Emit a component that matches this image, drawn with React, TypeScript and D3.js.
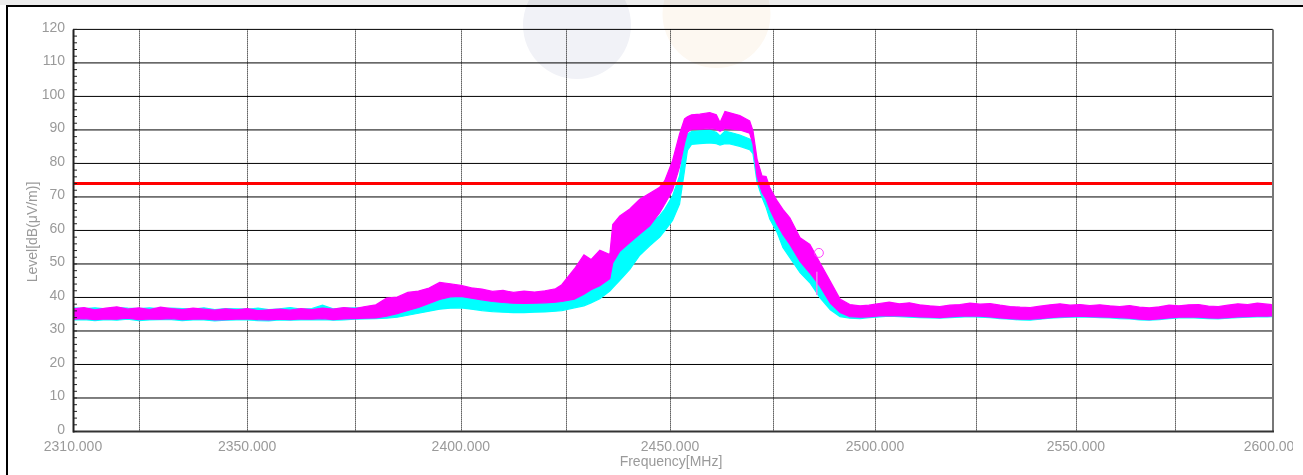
import React from "react";
import * as d3 from "d3";

const W = 1303;
const H = 475;

// Axis definitions
const labeledFreqs = [2310, 2350, 2400, 2450, 2500, 2550, 2600];
const gridFreqs = [2325, 2350, 2375, 2400, 2425, 2450, 2475, 2500, 2525, 2550, 2575];
const levelTicks = [0, 10, 20, 30, 40, 50, 60, 70, 80, 90, 100, 110, 120];
const limitLevel = 74;

// Sample frequencies (MHz)
const freqs = [
  // left noise floor
  2310, 2312.5, 2315, 2317.5, 2320, 2322.5, 2325, 2327.5, 2330, 2332.5, 2335, 2337.5, 2340, 2342.5, 2345,
  2347.5, 2350, 2352.5, 2355, 2357.5, 2360, 2362.5, 2365, 2367.5, 2370, 2372.5, 2375, 2377.5, 2380,
  // bump
  2382.5, 2385, 2387.5, 2390, 2392.5, 2395, 2397.5, 2400, 2402.5, 2405, 2407.5, 2410, 2412.5, 2415, 2417.5, 2420, 2422.5,
  // rise
  2424, 2427, 2429.3, 2431, 2433.1, 2435.5, 2436.2, 2437.9, 2440.3, 2442.7, 2445.1, 2447.5, 2448.7, 2450.6, 2452.3, 2453.5, 2454.2, 2455.2,
  // plateau + cliff
  2457.2, 2459.6, 2461.2, 2462.1, 2463.3, 2464.5, 2466.9, 2469.3, 2470.1, 2471.1, 2472.3,
  // fall
  2473.3, 2474.2, 2476, 2477.4, 2479.1, 2481.6, 2484, 2486.5, 2489, 2491.4, 2493.8, 2496.3,
  // right noise floor
  2498.5, 2501, 2503.5, 2506, 2508.5, 2511, 2513.5, 2516, 2518.5, 2521, 2523.5, 2526, 2528.5, 2531, 2533.5,
  2536, 2538.5, 2541, 2543.5, 2546, 2548.5, 2551, 2553.5, 2556, 2558.5, 2561, 2563.5, 2566, 2568.5, 2571,
  2573.5, 2576, 2578.5, 2581, 2583.5, 2586, 2588.5, 2591, 2593.5, 2596, 2598.5, 2600,
];

// Magenta trace envelope (dBµV/m)
const magentaLo = [
  33.5, 33.7, 33.4, 33.6, 33.5, 33.8, 33.4, 33.6, 33.5, 33.7, 33.4, 33.5, 33.6, 33.3, 33.4,
  33.5, 33.6, 33.4, 33.3, 33.5, 33.4, 33.6, 33.5, 33.7, 33.4, 33.6, 33.7, 33.8, 33.9,
  34.4, 35.2, 36.1, 37.0, 38.2, 39.4, 40.2, 40.3, 39.8, 39.3, 38.8, 38.5, 38.3, 38.2, 38.3, 38.4, 38.6,
  38.8, 39.5, 41.0, 42.3, 43.5, 45.6, 50.3, 53.8, 56.4, 58.9, 61.4, 65.3, 67.8, 72.0, 79.0, 86.0, 89.3, 90.3,
  90.2, 90.4, 90.2, 89.6, 90.4, 90.3, 90.0, 89.0, 85.8, 76.0, 71.3,
  69.3, 66.3, 61.8, 58.8, 55.8, 50.8, 47.3, 43.3, 38.3, 35.5, 34.3, 34.1,
  34.2, 34.5, 34.6, 34.5, 34.4, 34.2, 34.1, 34.0, 34.2, 34.4, 34.5, 34.4, 34.2, 33.9, 33.7,
  33.5, 33.5, 33.7, 34.0, 34.2, 34.3, 34.4, 34.3, 34.2, 34.1, 34.0, 33.8, 33.5, 33.4, 33.6,
  33.9, 34.1, 34.2, 34.1, 33.9, 33.8, 34.0, 34.2, 34.3, 34.4, 34.4, 34.5,
];
const magentaHi = [
  36.6, 37.0, 36.3, 36.8, 37.2, 36.5, 36.9, 36.4, 37.1, 36.7, 36.4, 36.8, 36.5, 36.2, 36.6,
  36.3, 36.7, 36.1, 36.3, 36.5, 36.2, 36.7, 36.4, 36.8, 36.5, 37.0, 36.7, 37.3, 37.8,
  39.8, 40.1, 41.5, 41.9, 42.8, 44.5, 44.1, 43.6, 42.9, 42.5, 41.8, 42.1, 41.5, 41.9, 41.6, 42.0, 42.6,
  43.8, 48.5, 52.7, 51.3, 54.1, 52.8, 61.8, 64.3, 66.4, 69.3, 71.1, 72.9, 74.8, 80.8, 88.8, 93.3, 93.9, 94.5,
  94.7, 95.2, 94.5, 92.2, 95.5, 95.1, 94.3, 92.7, 89.8, 81.3, 76.3,
  76.1, 72.8, 68.8, 66.3, 63.8, 57.8, 55.8, 50.3, 44.8, 39.5, 37.9, 37.5,
  37.7, 38.2, 38.6, 38.1, 38.4, 37.8, 37.5, 37.3, 37.7, 37.9, 38.3, 38.0, 38.2, 37.7, 37.3,
  37.1, 37.0, 37.4, 37.8, 38.1, 37.7, 37.9, 37.6, 37.8, 37.5, 37.3, 37.6, 37.1, 36.9, 37.2,
  37.7, 37.5, 37.8, 37.9, 37.4, 37.3, 37.7, 38.1, 37.9, 38.3, 38.0, 37.8,
];

// Cyan trace envelope (dBµV/m)
const cyanLo = [
  33.3, 33.4, 33.1, 33.4, 33.2, 33.5, 33.1, 33.3, 33.4, 33.4, 33.1, 33.3, 33.3, 33.0, 33.2,
  33.3, 33.3, 33.1, 33.0, 33.3, 33.2, 33.3, 33.3, 33.4, 33.2, 33.3, 33.5, 33.6, 33.7,
  33.8, 34.1, 34.7, 35.3, 35.9, 36.5, 36.8, 36.9, 36.5, 36.1, 35.8, 35.6, 35.5, 35.5, 35.6, 35.7, 35.9,
  36.1, 36.9, 37.5, 38.4, 39.6, 41.9, 42.9, 45.1, 48.4, 52.6, 55.4, 58.0, 59.9, 63.0, 67.9, 77.9, 83.9, 85.7,
  85.9, 86.1, 85.9, 85.5, 85.9, 85.8, 85.1, 84.1, 82.9, 74.4, 69.9,
  66.9, 63.4, 59.4, 54.9, 51.9, 47.4, 44.4, 39.9, 36.3, 34.3, 33.8, 33.7,
  34.0, 34.2, 34.4, 34.3, 34.1, 34.0, 33.9, 33.8, 34.0, 34.1, 34.3, 34.1, 34.0, 33.7, 33.5,
  33.3, 33.2, 33.5, 33.8, 34.0, 34.1, 34.2, 34.1, 34.0, 33.9, 33.7, 33.6, 33.3, 33.2, 33.4,
  33.7, 33.9, 34.0, 33.8, 33.7, 33.6, 33.8, 34.0, 34.1, 34.2, 34.2, 34.3,
];
const cyanHi = [
  36.9, 36.7, 36.9, 36.6, 37.0, 36.8, 36.7, 36.9, 36.6, 36.8, 36.7, 36.5, 36.9, 36.4, 36.7,
  36.6, 36.5, 36.8, 36.4, 36.6, 37.0, 36.5, 36.7, 37.7, 36.6, 36.8, 36.9, 37.0, 37.2,
  37.1, 37.5, 38.2, 38.8, 39.5, 40.1, 40.5, 40.3, 39.9, 39.5, 39.1, 38.9, 38.7, 38.7, 38.8, 38.9, 39.1,
  39.2, 40.8, 41.9, 43.8, 46.5, 50.3, 51.8, 53.5, 56.8, 59.4, 61.8, 64.4, 66.3, 70.3, 76.3, 86.3, 88.8, 89.5,
  89.7, 89.9, 89.3, 88.2, 89.6, 89.3, 88.5, 87.3, 86.3, 80.3, 74.3,
  72.3, 68.3, 64.3, 59.3, 56.3, 52.3, 49.3, 44.8, 40.3, 37.5, 37.1, 37.2,
  37.3, 37.9, 38.1, 37.8, 37.7, 37.5, 37.2, 37.1, 37.4, 37.6, 37.9, 37.7, 37.8, 37.4, 37.1,
  36.8, 36.7, 37.1, 37.5, 37.7, 37.5, 37.6, 37.3, 37.5, 37.3, 37.1, 37.3, 36.8, 36.6, 36.9,
  37.4, 37.3, 37.5, 37.6, 37.2, 37.1, 37.4, 37.8, 37.6, 37.9, 37.7, 37.5,
];

// Marker on the magenta trace and a stray spike
const markerFreqs = [2486.2];
const markerLevels = [53.3];
const spikeFreqs = [2485.7];
const spikeLo = [40.7];
const spikeHi = [47.7];

const PLOT_L = 73;
const PLOT_R = 1273;
const PLOT_T = 29.4;
const PLOT_B = 431.5;
const FONT = "'Liberation Sans', Arial, sans-serif";
const LABEL = "#9a9a9a";

export default function App() {
  const x = d3.scaleLog().domain([2310, 2600]).range([PLOT_L, PLOT_R]);
  const y = d3.scaleLinear().domain([0, 120]).range([PLOT_B, PLOT_T]);
  const n = Math.min(freqs.length, magentaLo.length, magentaHi.length, cyanLo.length, cyanHi.length);
  const idx = d3.range(n);

  const band = (lo: number[], hi: number[]) =>
    d3
      .area<number>()
      .x((i) => x(freqs[i]))
      .y0((i) => y(lo[i]))
      .y1((i) => y(hi[i]))(idx) || "";

  const minorTicks = y.ticks(60);
  const fmt = d3.format(".3f");

  return (
    <div style={{ position: "fixed", left: 0, top: 0, width: W, height: H }}>
      <svg width={W} height={H} style={{ display: "block" }} fontFamily={FONT}>
        <defs>
          <clipPath id="plotClip">
            <rect x={PLOT_L} y={PLOT_T - 2} width={PLOT_R - PLOT_L} height={PLOT_B - PLOT_T + 2} />
          </clipPath>
          <clipPath id="labelClip">
            <rect x={0} y={0} width={1293} height={H} />
          </clipPath>
        </defs>
        <rect x={0} y={0} width={W} height={H} fill="#ffffff" />
        <rect x={0} y={0} width={W} height={5} fill="#ececec" />
        <g style={{ mixBlendMode: "multiply" }}>
          <circle cx={577} cy={25} r={54} fill="#f1f2f7" />
          <circle cx={716.5} cy={14} r={54} fill="#fdf8f1" />
        </g>
        <rect x={6} y={5} width={W - 6} height={2} fill="#000" />
        <rect x={6} y={5} width={2} height={H - 5} fill="#000" />

        {/* horizontal grid */}
        {levelTicks.map((t) => (
          <line key={"h" + t} x1={PLOT_L} x2={PLOT_R} y1={y(t)} y2={y(t)} stroke="#000" strokeWidth={1} />
        ))}
        {/* vertical dotted grid */}
        {gridFreqs.map((f) => (
          <line
            key={"v" + f}
            x1={Math.round(x(f)) + 0.5}
            x2={Math.round(x(f)) + 0.5}
            y1={PLOT_T}
            y2={PLOT_B}
            stroke="#000"
            strokeWidth={1}
            strokeDasharray="1,1"
          />
        ))}

        {/* traces */}
        <g clipPath="url(#plotClip)">
          <path d={band(cyanLo, cyanHi)} fill="#00ffff" stroke="#00ffff" strokeWidth={1.2} />
          <path d={band(magentaLo, magentaHi)} fill="#ff00ff" stroke="#ff00ff" strokeWidth={1.2} />
          {spikeFreqs.map((f, i) => (
            <line key={"s" + i} x1={x(f)} x2={x(f)} y1={y(spikeLo[i])} y2={y(spikeHi[i])} stroke="#f080f0" strokeWidth={1.5} />
          ))}
          {markerFreqs.map((f, i) => (
            <circle key={"m" + i} cx={x(f)} cy={y(markerLevels[i])} r={4.5} fill="none" stroke="#ff40ff" strokeWidth={1} />
          ))}
        </g>

        {/* limit line */}
        <line x1={PLOT_L} x2={PLOT_R} y1={y(limitLevel)} y2={y(limitLevel)} stroke="#ff0000" strokeWidth={3} />

        {/* axes frame */}
        <line x1={PLOT_R} x2={PLOT_R} y1={PLOT_T} y2={PLOT_B} stroke="#777" strokeWidth={2} />
        <line x1={PLOT_L} x2={PLOT_R + 1} y1={PLOT_B} y2={PLOT_B} stroke="#333" strokeWidth={2} />
        <line x1={PLOT_L + 0.5} x2={PLOT_L + 0.5} y1={PLOT_T} y2={PLOT_B + 1} stroke="#222" strokeWidth={2} />
        {minorTicks.map((t) => (
          <line key={"mt" + t} x1={PLOT_L} x2={PLOT_L + 4} y1={y(t)} y2={y(t)} stroke="#222" strokeWidth={1} />
        ))}

        {/* y tick labels */}
        {levelTicks.map((t) => (
          <text key={"yl" + t} x={65} y={y(t) + 2.5} textAnchor="end" fontSize={14} fill={LABEL}>
            {t}
          </text>
        ))}
        {/* x tick labels */}
        <g clipPath="url(#labelClip)">
          {labeledFreqs.map((f) => (
            <text key={"xl" + f} x={x(f)} y={451} textAnchor="middle" fontSize={14} fill={LABEL}>
              {fmt(f)}
            </text>
          ))}
        </g>
        <text x={671} y={466} textAnchor="middle" fontSize={14} fill={LABEL}>
          Frequency[MHz]
        </text>
        <text transform={`translate(37,232) rotate(-90)`} textAnchor="middle" fontSize={14} fill={LABEL}>
          Level[dB(μV/m)]
        </text>
      </svg>
    </div>
  );
}
